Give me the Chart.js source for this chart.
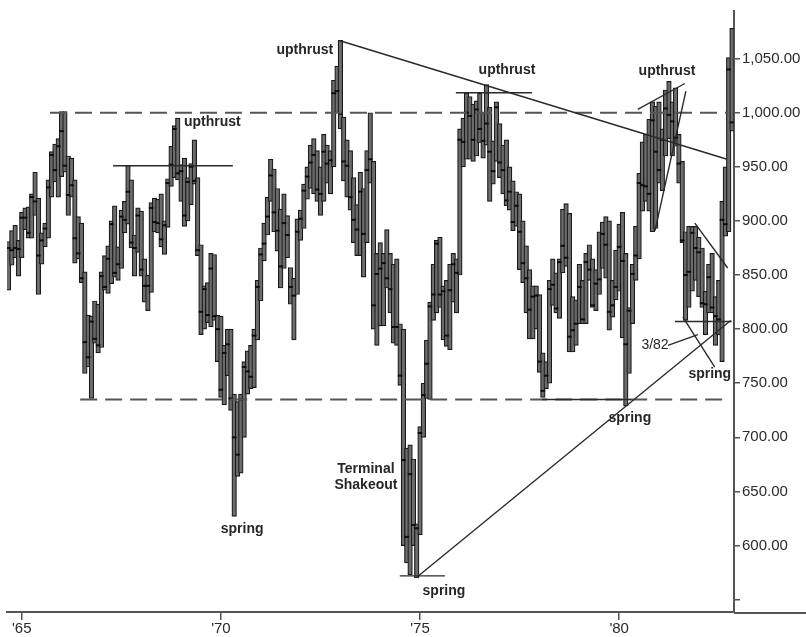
<!DOCTYPE html>
<html><head><meta charset="utf-8">
<script src="https://cdn.jsdelivr.net/npm/chart.js@4.4.1/dist/chart.umd.min.js"></script>
<style>html,body{margin:0;padding:0;background:#fff;}#wrap{width:806px;height:637px;}</style>
</head><body><div id="wrap"><canvas id="c" width="806" height="637"></canvas></div>
<script>
// Monthly bars, Sep 1964 .. Nov 1982
const startYear = 1964, startMonth = 8;
const highs = [
 881, 891, 896, 882,
 908, 912, 913, 925, 945, 921, 889, 898, 938, 964, 971, 976,
 1001, 1001, 960, 958, 938, 904, 898, 853, 813, 812, 826, 823,
 853, 868, 877, 900, 914, 876, 910, 918, 951, 938, 887, 912,
 909, 865, 850, 917, 921, 920, 925, 900, 939, 969, 988, 995,
 952, 958, 940, 953, 975, 940, 878, 840, 843, 870, 869, 813,
 812, 785, 800, 800, 740, 733, 740, 770, 780, 785, 800, 845,
 875, 898, 922, 957, 948, 930, 911, 925, 905, 857, 847, 902,
 910, 934, 950, 970, 976, 965, 950, 980, 970, 965, 1030, 1043,
 1067, 996, 975, 965, 940, 915, 945, 930, 965, 1000, 955, 870,
 880, 870, 892, 870, 860, 865, 805, 800, 690, 693, 680, 620,
 710, 750, 790, 825, 860, 882, 885, 840, 845, 860, 870, 865,
 985, 995, 1018, 1015, 1008, 1011, 1018, 1000, 1026, 1005, 974, 1010,
 990, 970, 975, 950, 937, 927, 925, 900, 877, 855, 840, 840,
 832, 778, 770, 845, 865, 852, 865, 911, 916, 907, 830, 827,
 860, 845, 870, 878, 865, 855, 890, 899, 904, 900, 845, 873,
 897, 908, 870, 820, 860, 895, 944, 973, 980, 994, 1010, 1006,
 1010, 985, 1021, 1029, 1010, 1023, 980, 955, 890, 895, 895, 895,
 885, 875, 835, 860, 870, 830, 845, 918, 950, 1051, 1078
];
const lows = [
 836, 859, 866, 849,
 866, 892, 884, 884, 905, 832, 860, 876, 884, 922, 936, 922,
 941, 945, 905, 922, 861, 865, 843, 759, 765, 736, 787, 778,
 783, 836, 833, 842, 848, 845, 856, 889, 897, 875, 849, 871,
 849, 825, 817, 834, 890, 889, 876, 869, 894, 932, 940, 938,
 918, 895, 900, 915, 934, 868, 795, 800, 806, 802, 808, 770,
 737, 730, 757, 725, 627, 664, 667, 700, 740, 745, 746, 790,
 826, 863, 887, 918, 890, 872, 838, 856, 866, 823, 790, 832,
 882, 893, 920, 930, 925, 918, 905, 918, 935, 925, 950, 1000,
 985, 937, 922, 910, 880, 868, 868, 848, 880, 935, 800, 785,
 803, 803, 838, 815, 787, 785, 748, 600, 584, 573, 600, 570,
 610, 700, 736, 735, 808, 815, 820, 790, 784, 781, 825, 815,
 850, 950, 957, 957, 955, 960, 972, 958, 970, 918, 934, 955,
 940, 925, 914, 910, 891, 895, 855, 843, 815, 791, 791, 800,
 760, 737, 745, 750, 822, 815, 810, 852, 858, 779, 779, 785,
 805, 805, 805, 845, 820, 817, 832, 856, 847, 799, 811, 827,
 835, 792, 729, 759, 805, 845, 865, 909, 918, 909, 890, 893,
 935, 928, 960, 976, 960, 969, 935, 880, 808, 820, 835, 845,
 830, 820, 795, 815, 815, 785, 795, 770, 886, 890, 983
];
const closes = [
 875, 873, 875, 874,
 903, 903, 889, 922, 918, 868, 882, 893, 931, 961, 947, 969,
 983, 951, 924, 933, 884, 870, 847, 788, 774, 807, 791, 785,
 849, 839, 865, 897, 852, 860, 904, 901, 927, 880, 875, 905,
 855, 840, 840, 912, 899, 898, 883, 896, 935, 952, 985, 944,
 946, 905, 936, 950, 937, 873, 816, 837, 813, 856, 812, 800,
 744, 778, 786, 736, 700, 684, 735, 765, 761, 756, 794, 839,
 869, 879, 904, 942, 908, 891, 858, 898, 887, 839, 831, 890,
 902, 928, 941, 954, 961, 929, 925, 964, 953, 956, 1018, 1020,
 999, 955, 951, 922, 901, 892, 927, 888, 947, 957, 822, 851,
 856, 861, 847, 837, 802, 802, 757, 679, 608, 666, 619, 616,
 704, 739, 768, 821, 832, 879, 832, 835, 794, 836, 860, 852,
 975, 973, 1000, 997, 975, 1003, 985, 974, 990, 964, 946, 1005,
 954, 947, 919, 927, 899, 914, 890, 861, 847, 818, 830, 831,
 770, 743, 757, 837, 841, 819, 862, 877, 866, 793, 799, 805,
 839, 809, 862, 855, 822, 842, 846, 888, 878, 816, 822, 839,
 876, 863, 786, 817, 851, 868, 935, 933, 932, 925, 993, 964,
 947, 975, 1004, 998, 992, 977, 953, 882, 850, 853, 889, 875,
 871, 824, 823, 848, 820, 812, 809, 901, 897, 1040, 991
];
const months = highs.map((_, i) => { const m = startMonth + i; return (startYear + Math.floor(m / 12)) + '-' + String(m % 12 + 1).padStart(2, '0'); });
const xTickMonths = ['1965-01', '1970-01', '1975-01', '1980-01'];
const xTickLabels = ["'65", "'70", "'75", "'80"];
const yTickValues = [550, 600, 650, 700, 750, 800, 850, 900, 950, 1000, 1050];

// annotation geometry in data units: [monthIndex, value]
const dashedLines = [
  [[12.5, 1000], [216.5, 1000]],
  [[21.6, 735], [215.2, 735]]
];
const solidLines = [
  [[31.5, 951], [67.6, 951]],
  [[99.9, 1066.5], [216.5, 957]],
  [[134.8, 1018.5], [157.7, 1018.5]],
  [[160.8, 735], [187.6, 735]],
  [[117.9, 572], [131.5, 572]],
  [[123.1, 571], [217.6, 808]],
  [[189.6, 1003], [203.8, 1027]],
  [[194.8, 891], [204.1, 1020]],
  [[206.8, 898], [216.7, 856.5]],
  [[200.8, 807], [217.9, 807]],
  [[203.2, 811], [212.8, 765]],
  [[198.7, 785], [207.7, 795]]
];
const notes = [
  ['upthrust', 61.4, 991, 'bold'],
  ['upthrust', 89.3, 1058, 'bold'],
  ['upthrust', 150.2, 1039, 'bold'],
  ['upthrust', 198.4, 1038, 'bold'],
  ['spring', 70.4, 615.5, 'bold'],
  ['Terminal', 107.7, 671, 'bold'],
  ['Shakeout', 107.7, 655.7, 'bold'],
  ['spring', 131.2, 558, 'bold'],
  ['spring', 187.2, 717.3, 'bold'],
  ['spring', 211.3, 758.5, 'bold'],
  ['3/82', 194.8, 785, 'normal']
];

const annotate = {
  id: 'annotate',
  afterDatasetsDraw(chart) {
    const { ctx, scales: { x, y }, chartArea } = chart;
    const P = (pt) => [x.getPixelForValue(pt[0]), y.getPixelForValue(pt[1])];
    ctx.save();
    ctx.strokeStyle = '#555';
    ctx.lineWidth = 2;
    ctx.setLineDash([17, 8]);
    dashedLines.forEach(([a, b]) => { const p = P(a), q = P(b); ctx.beginPath(); ctx.moveTo(p[0], p[1]); ctx.lineTo(q[0], q[1]); ctx.stroke(); });
    ctx.setLineDash([]);
    ctx.strokeStyle = '#2a2a2a';
    ctx.lineWidth = 1.4;
    solidLines.forEach(([a, b]) => { const p = P(a), q = P(b); ctx.beginPath(); ctx.moveTo(p[0], p[1]); ctx.lineTo(q[0], q[1]); ctx.stroke(); });
    ctx.fillStyle = '#262626';
    ctx.textAlign = 'center';
    ctx.textBaseline = 'middle';
    notes.forEach(([t, i, v, w]) => {
      ctx.font = w + ' 14px "Liberation Sans", Arial, sans-serif';
      const p = P([i, v]);
      ctx.fillText(t, p[0], p[1]);
    });
    // x axis line continues under the value axis
    ctx.strokeStyle = '#555';
    ctx.lineWidth = 2;
    ctx.beginPath();
    ctx.moveTo(chartArea.right, chartArea.bottom + 1);
    ctx.lineTo(chart.width, chartArea.bottom + 1);
    ctx.stroke();
    ctx.restore();
  }
};

Chart.defaults.font.family = '"Liberation Sans", Arial, sans-serif';
new Chart(document.getElementById('c'), {
  type: 'bar',
  data: {
    datasets: [
      {
        type: 'line', label: 'close', order: 0,
        data: closes.map((c, i) => ({ x: i, y: c })),
        showLine: false, pointStyle: 'line', pointRadius: 2.3, pointBorderWidth: 2,
        pointBorderColor: '#0d0d0d', pointBackgroundColor: '#0d0d0d'
      },
      {
        type: 'bar', label: 'range', order: 1,
        data: highs.map((h, i) => ({ x: i, y: [lows[i], h] })),
        backgroundColor: '#6c6c6c', borderColor: '#1a1a1a', borderWidth: 1.2,
        borderSkipped: false, barThickness: 4.6, grouped: false
      }
    ]
  },
  options: {
    responsive: false, animation: false,
    layout: { padding: { left: 7, top: 6, right: 0, bottom: 0 } },
    plugins: { legend: { display: false }, tooltip: { enabled: false } },
    scales: {
      x: {
        type: 'linear', offset: false, min: -0.45, max: 218.6,
        afterBuildTicks: (s) => { s.ticks = xTickMonths.map(m => ({ value: months.indexOf(m) })); },
        afterFit: (s) => { s.height = 25; },
        ticks: { autoSkip: false, maxRotation: 0, padding: 0, color: '#2a2a2a', font: { size: 15 },
          callback: (v) => { const k = xTickMonths.indexOf(months[v]); return k >= 0 ? xTickLabels[k] : ''; } },
        grid: { display: true, drawOnChartArea: false, drawTicks: true, tickLength: 8, color: '#555', lineWidth: 1.5, offset: false },
        border: { display: true, color: '#555', width: 2 }
      },
      y: {
        position: 'right', min: 538.6, max: 1094,
        afterBuildTicks: (s) => { s.ticks = yTickValues.map(v => ({ value: v })); },
        afterFit: (s) => { s.width = 72; },
        ticks: { autoSkip: false, padding: 2, color: '#2a2a2a', font: { size: 15 },
          callback: (v) => v === 550 ? '' : v.toLocaleString('en-US', { minimumFractionDigits: 2, maximumFractionDigits: 2 }) },
        grid: { display: true, drawOnChartArea: false, drawTicks: true, tickLength: 6, color: '#555', lineWidth: 1.5 },
        border: { display: true, color: '#555', width: 2 }
      }
    }
  },
  plugins: [annotate]
});
</script></body></html>
